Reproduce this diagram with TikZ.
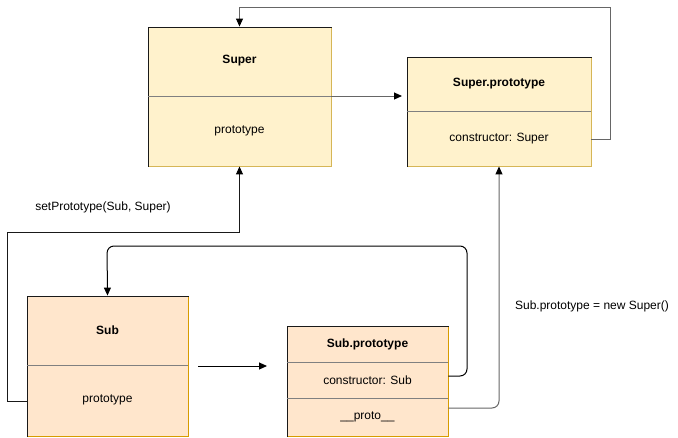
\documentclass[tikz,border=0pt]{standalone}
\usepackage{fontspec}
\setmainfont{Liberation Sans}
\usetikzlibrary{arrows.meta,calc}
\definecolor{supfill}{HTML}{FFF2CC}
\definecolor{subfill}{HTML}{FFE6CC}
\definecolor{supedge}{HTML}{D6B656}
\definecolor{subedge}{HTML}{D79B00}
\definecolor{lgray}{HTML}{666666}
\definecolor{divgray}{HTML}{808080}
\tikzset{
  box/.style={draw=black!90, line width=0.9pt, inner sep=0pt, minimum width=#1},
  lbl/.style={font=\fontsize{12}{14}\selectfont, inner sep=1pt},
  ttl/.style={font=\bfseries\fontsize{12}{14}\selectfont, inner sep=1pt},
  conn/.style={line width=1pt, -{Triangle[length=8pt,width=7pt,color=black]}},
  divider/.style={draw=divgray, line width=0.7pt},
}
\begin{document}
\begin{tikzpicture}[x=1pt,y=-1pt]
\useasboundingbox (0,0) rectangle (678,437);
% Super
\node[box=183pt, minimum height=139pt, fill=supfill] (super) at (239.5,96.5) {};
\draw[supedge, line width=0.9pt] ([yshift=-1pt]super.north east) -- (super.south east) -- ([xshift=1pt]super.south west);
\coordinate (superdiv) at (239.5,96);
\draw[divider] (super.west |- superdiv) -- (super.east |- superdiv);
\node[ttl] (supertitle) at (239.5,61) {Super};
\node[lbl] (superproto) at (239.5,131) {prototype};
% Super.prototype
\node[box=184pt, minimum height=109pt, fill=supfill] (sp) at (499,111.5) {};
\draw[supedge, line width=0.9pt] ([yshift=-1pt]sp.north east) -- (sp.south east) -- ([xshift=1pt]sp.south west);
\coordinate (spdiv) at (499,111);
\draw[divider] (sp.west |- spdiv) -- (sp.east |- spdiv);
\node[ttl] (sptitle) at (499,84) {Super.prototype};
\node[lbl] (spcons) at (499,139) {constructor: Super};
% Sub
\node[box=161pt, minimum height=140pt, fill=subfill] (sub) at (107.5,366) {};
\draw[subedge, line width=0.9pt] ([yshift=-1pt]sub.north east) -- (sub.south east) -- ([xshift=1pt]sub.south west);
\coordinate (subdiv) at (107.5,365);
\draw[divider] (sub.west |- subdiv) -- (sub.east |- subdiv);
\node[ttl] (subtitle) at (107.5,330) {Sub};
\node[lbl] (subproto) at (107.5,400) {prototype};
% Sub.prototype
\node[box=161pt, minimum height=110pt, fill=subfill] (subp) at (367.5,381) {};
\draw[subedge, line width=0.9pt] ([yshift=-1pt]subp.north east) -- (subp.south east) -- ([xshift=1pt]subp.south west);
\coordinate (subpdiv1) at (367.5,362);
\coordinate (subpdiv2) at (367.5,398);
\draw[divider] (subp.west |- subpdiv1) -- (subp.east |- subpdiv1);
\draw[divider] (subp.west |- subpdiv2) -- (subp.east |- subpdiv2);
\node[ttl] (subptitle) at (367.5,344) {Sub.prototype};
\node[lbl] (subpcons) at (367.5,380) {constructor: Sub};
\node[lbl] (subpproto) at (367.5,417) {\_\_proto\_\_};
% labels
\node[lbl] (setlbl) at (103,207) {setPrototype(Sub, Super)};
\node[lbl] (newlbl) at (592,306) {Sub.prototype = new Super()};
% connectors
\coordinate (sptip) at (402,96);
\draw[conn, draw=lgray] (super.east |- superdiv) -- (sptip);
\draw[conn, draw=lgray] (sp.east |- 0,139) -- (610,139) -- (610,7) -| (super.north);
\draw[conn, draw=black!90] (sub.west |- 0,401) -- (7,401) -- (7,232) -| (super.south);
\coordinate (fa1) at (198,366);
\coordinate (fa2) at (267,366);
\draw[conn] (fa1) -- (fa2);
\draw[conn, rounded corners=7pt] (subp.east |- 0,376) -- (467,376) -- (467,246) -- (107,246) -- (sub.north);
\draw[conn, draw=lgray, rounded corners=7pt] (subp.east |- 0,408) -- (499,408) -- (sp.south);
\end{tikzpicture}
\end{document}
